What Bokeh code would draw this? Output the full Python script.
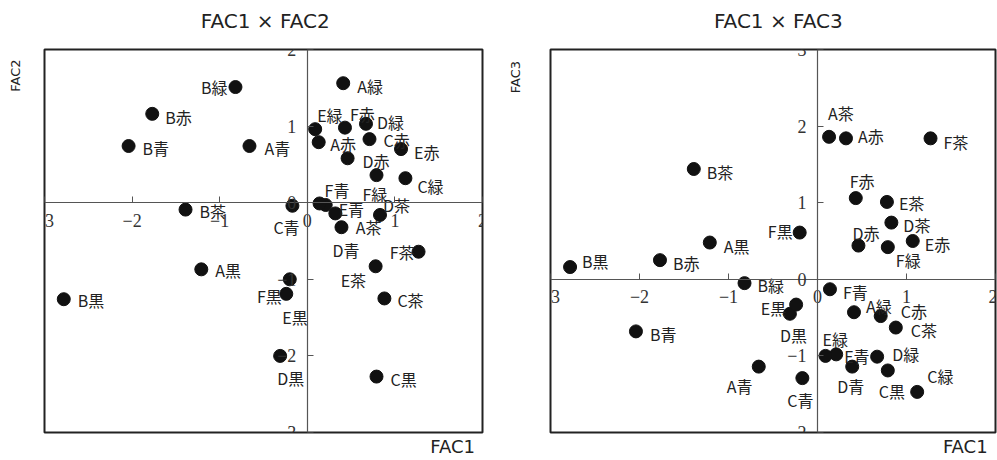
from bokeh.plotting import figure
from bokeh.models import (ColumnDataSource, FixedTicker, Range1d, AllLabels,
                          LinearAxis)
from bokeh.layouts import row
from bokeh.embed import file_html
from bokeh.resources import INLINE
from bokeh.core.properties import value, field

# ---- data ----
names = ["A赤", "A青", "A緑", "A茶", "A黒",
         "B赤", "B青", "B緑", "B茶", "B黒",
         "C赤", "C青", "C緑", "C茶", "C黒",
         "D赤", "D青", "D緑", "D茶", "D黒",
         "E赤", "E青", "E緑", "E茶", "E黒",
         "F赤", "F青", "F緑", "F茶", "F黒"]
fac1 = [0.32, -0.66, 0.41, 0.13, -1.21,
        -1.77, -2.04, -0.82, -1.39, -2.78,
        0.71, -0.17, 1.12, 0.88, 0.79,
        0.46, 0.39, 0.67, 0.83, -0.31,
        1.07, 0.21, 0.09, 0.78, -0.24,
        0.43, 0.14, 0.79, 1.27, -0.20]
fac2 = [-0.14, 0.74, 1.56, 0.79, -0.87,
        1.16, 0.74, 1.51, -0.09, -1.26,
        0.83, -0.04, 0.32, -1.25, -2.27,
        0.58, -0.32, 1.03, -0.16, -2.00,
        0.70, -0.03, 0.96, -0.83, -1.19,
        0.98, -0.01, 0.36, -0.64, -1.00]
fac3 = [1.84, -1.14, -0.43, 1.86, 0.48,
        0.25, -0.68, -0.05, 1.44, 0.16,
        -0.48, -1.29, -1.47, -0.63, -1.19,
        0.44, -1.14, -1.01, 0.74, -0.45,
        0.50, -0.98, -1.00, 1.01, -0.33,
        1.06, -0.13, 0.42, 1.84, 0.61]
x_ticks = [-3, -2, -1, 0, 1, 2]
y2_ticks = [-3, -2, -1, 0, 1, 2]
y3_ticks = [-2, -1, 0, 1, 2, 3]

# ---- label layout (screen px offsets from each point) ----
lab2_dx = [-5, 15, 14, 37, 14, 13, 14, -8, 14, 14, 14, -19, 12, 13, 14,
           15, -9, 11, 3, -3, 13, 13, 2, -35, -4, 5, 5, -14, -4, -8]
lab2_dy = [-69, 2, 3, 85, 1, 3, 2, 0, 1, 1, 1, 21, 8, 2, 2,
           3, 23, -2, -10, 22, 3, 4, -14, 14, 23.5, -14, -13, 18.5, 0, 17]
lab2_al = ["left"] * 30
for i in (7, 28, 29):
    lab2_al[i] = "right"

lab3_dx = [12, -32, 12, -1, 14, 13, 14, 13, 13, 12, 20, -15, 10, 15, -9,
           -6, -15, 15, 12, -10, 12, 8, -3, 12, -10, -6, 13, 8, 13, -7]
lab3_dy = [-2.5, 19, -6, -23.5, 3, 2.5, 3, 2, 3, -6, -5, 22, -16, 2.5, 21,
           -13, 19, -2.5, 2.5, 21, 3, 2, -16.5, 1.5, 3, -17, 3, 12.5, 4, -2]
lab3_al = ["left"] * 30
for i in (24, 29):
    lab3_al[i] = "right"

LABEL_FONT = "Noto Sans CJK JP"
TICK_FONT = "Liberation Serif"
TITLE_FONT = "DejaVu Sans"
TICK_SIZE = "18px"
TICK_STANDOFF = 11


def tick_text(t):
    return str(t).replace("-", "\u2212")


def text_axis(pos, text, size, standoff, orientation="horizontal"):
    """An axis with no line/ticks used only to place one piece of text
    just outside the frame."""
    ax = LinearAxis(ticker=FixedTicker(ticks=[pos]),
                    major_label_overrides={pos: text},
                    major_label_policy=AllLabels(),
                    major_label_orientation=orientation,
                    major_label_standoff=standoff,
                    major_label_text_font=TITLE_FONT,
                    major_label_text_font_size=size,
                    major_label_text_color="#222",
                    axis_line_color=None, major_tick_line_color=None,
                    minor_tick_line_color=None,
                    major_tick_in=0, major_tick_out=0,
                    minor_tick_in=0, minor_tick_out=0)
    return ax


def make_panel(yvals, yticks, yr, title, ylab, dx, dy, al, width, height,
               bl, br, bt, bb, title_x, ylab_y, ylab_gap):
    src = ColumnDataSource(dict(x=fac1, y=yvals, name=names, dx=dx, dy=dy, al=al))
    p = figure(width=width, height=height,
               x_range=Range1d(-3, 2), y_range=Range1d(*yr),
               output_backend="svg", toolbar_location=None,
               min_border_left=bl, min_border_right=br,
               min_border_top=bt, min_border_bottom=bb)
    p.grid.visible = False
    p.outline_line_color = "#222"
    p.outline_line_width = 2
    p.background_fill_color = "white"
    p.border_fill_color = "white"

    for ax, ticks in ((p.xaxis[0], x_ticks), (p.yaxis[0], yticks)):
        ax.fixed_location = 0
        ax.ticker = FixedTicker(ticks=ticks)
        ax.major_label_overrides = {t: tick_text(t) for t in ticks}
        ax.major_label_policy = AllLabels()
        ax.major_tick_in = 6
        ax.major_tick_out = 0
        ax.minor_tick_in = 0
        ax.minor_tick_out = 0
        ax.axis_line_color = "#555"
        ax.axis_line_width = 1.2
        ax.major_tick_line_color = "#555"
        ax.major_label_text_font = TICK_FONT
        ax.major_label_text_font_size = TICK_SIZE
        ax.major_label_text_color = "#333"
        ax.major_label_standoff = TICK_STANDOFF

    # chart title above, vertical-axis name at top-left, FAC1 at bottom-right
    p.add_layout(text_axis(title_x, title, "20px", 17), "above")
    p.add_layout(text_axis(ylab_y, ylab, "13px", ylab_gap, "vertical"), "left")
    p.add_layout(text_axis(1.66, "FAC1", "18px", 3), "below")

    p.scatter(x="x", y="y", source=src, size=13, color="#111")
    p.text(x="x", y="y", text="name", source=src, x_offset="dx", y_offset="dy",
           text_align=field("al"), text_baseline="middle",
           text_font=value(LABEL_FONT), text_font_size="16px", text_color="#222")
    return p


p1 = make_panel(fac2, y2_ticks, (-3, 2), "FAC1 × FAC2", "FAC2",
                lab2_dx, lab2_dy, lab2_al, 500, 460, 44, 18, 49, 28,
                -0.48, 1.66, 21)
p2 = make_panel(fac3, y3_ticks, (-2, 3), "FAC1 × FAC3", "FAC3",
                lab3_dx, lab3_dy, lab3_al, 497, 460, 50, 2, 47, 28,
                -0.44, 2.64, 27)

layout = row(p1, p2)
open("out.html", "w").write(file_html(layout, INLINE))
